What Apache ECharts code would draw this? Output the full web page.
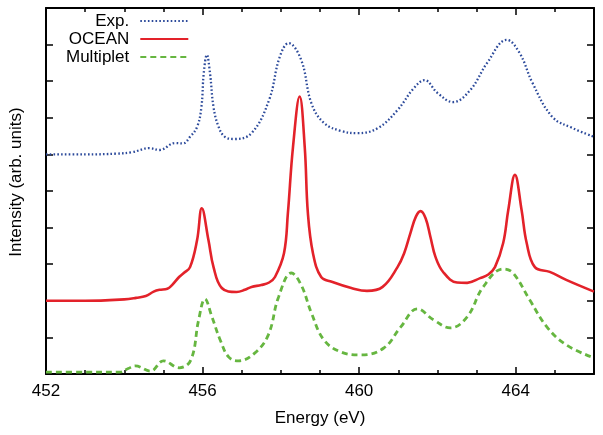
<!DOCTYPE html>
<html>
<head>
<meta charset="utf-8">
<script src="https://cdn.jsdelivr.net/npm/echarts@6/dist/echarts.min.js"></script>
<style>
html,body{margin:0;padding:0;background:#fff;}
#c{width:603px;height:435px;}
</style>
</head>
<body>
<div id="c"></div>
<script>
var seriesNames = ['Exp.', 'OCEAN', 'Multiplet'];
var xTickLabels = [452, 456, 460, 464];

var expE = [452.0, 453.0, 453.8, 454.2, 454.64, 454.9, 455.3, 455.5, 455.68, 455.86, 455.97, 456.03, 456.11, 456.19, 456.28, 456.41, 456.57, 456.8, 457.25, 457.7, 457.97, 458.2, 458.52, 458.78, 459.1, 459.54, 459.97, 460.48, 460.98, 461.39, 461.67, 462.0, 462.4, 462.84, 463.27, 463.77, 464.1, 464.43, 464.94, 465.45, 466.0];
var expI = [6.0, 6.0, 6.02, 6.06, 6.17, 6.12, 6.31, 6.3, 6.48, 6.75, 7.29, 8.22, 8.72, 8.22, 7.29, 6.75, 6.48, 6.42, 6.58, 7.49, 8.66, 9.04, 8.58, 7.4, 6.86, 6.64, 6.58, 6.72, 7.21, 7.8, 8.03, 7.68, 7.43, 7.76, 8.5, 9.13, 8.77, 7.95, 7.02, 6.72, 6.48];

var oceanE = [452.0, 453.0, 454.0, 454.3, 454.55, 454.75, 454.9, 455.1, 455.22, 455.4, 455.52, 455.68, 455.86, 455.98, 456.15, 456.28, 456.49, 456.87, 457.08, 457.25, 457.5, 457.7, 457.85, 458.08, 458.18, 458.31, 458.48, 458.61, 458.69, 458.82, 459.03, 459.3, 459.8, 460.2, 460.6, 460.98, 461.15, 461.31, 461.45, 461.57, 461.7, 461.82, 461.95, 462.15, 462.5, 462.76, 463.09, 463.3, 463.47, 463.68, 463.81, 463.98, 464.15, 464.28, 464.49, 464.87, 465.29, 466.0];
var oceanI = [2.0, 2.0, 2.04, 2.08, 2.13, 2.25, 2.3, 2.33, 2.43, 2.65, 2.76, 2.92, 3.66, 4.53, 3.66, 2.92, 2.35, 2.24, 2.3, 2.38, 2.43, 2.5, 2.65, 3.3, 4.4, 6.2, 7.58, 6.2, 4.4, 3.3, 2.65, 2.52, 2.35, 2.27, 2.38, 2.92, 3.3, 3.85, 4.3, 4.45, 4.25, 3.75, 3.2, 2.78, 2.5, 2.49, 2.62, 2.72, 2.92, 3.58, 4.48, 5.44, 4.48, 3.58, 2.92, 2.79, 2.57, 2.25];

var multE = [452.0, 453.0, 453.88, 454.1, 454.28, 454.67, 455.0, 455.4, 455.7, 455.9, 456.06, 456.24, 456.45, 456.67, 456.92, 457.33, 457.68, 457.94, 458.27, 458.52, 458.78, 459.1, 459.54, 460.05, 460.63, 461.06, 461.49, 461.9, 462.33, 462.76, 463.17, 463.68, 463.93, 464.36, 464.8, 465.3, 466.0];
var multI = [0.05, 0.05, 0.05, 0.15, 0.22, 0.08, 0.36, 0.17, 0.38, 1.48, 2.05, 1.56, 0.93, 0.46, 0.36, 0.57, 1.07, 2.1, 2.76, 2.43, 1.67, 0.93, 0.6, 0.52, 0.71, 1.28, 1.78, 1.48, 1.26, 1.56, 2.38, 2.87, 2.76, 2.02, 1.28, 0.79, 0.44];

function zip(a, b) { return a.map(function (v, i) { return [v, b[i]]; }); }

var FONT = 'Liberation Sans, Arial, Helvetica, sans-serif';
var chart = echarts.init(document.getElementById('c'), null, {renderer: 'canvas'});

function xAx(pos, interval, len, showLine, showLabel) {
  return {
    type: 'value', position: pos, min: 452, max: 466, interval: interval,
    axisLine: {show: showLine, lineStyle: {color: '#000', width: 2}},
    axisTick: {show: true, inside: true, length: len, lineStyle: {color: '#000', width: 1.5}},
    axisLabel: {show: showLabel, showMaxLabel: false, margin: 9, fontSize: 17, fontFamily: FONT, color: '#000',
      formatter: function (v) { return xTickLabels.indexOf(v) >= 0 ? String(v) : ''; }},
    splitLine: {show: false}
  };
}
function yAx(pos) {
  return {
    type: 'value', position: pos, min: 0, max: 10, interval: 1,
    axisLine: {show: true, lineStyle: {color: '#000', width: 2}},
    axisTick: {show: true, inside: true, length: 7, lineStyle: {color: '#000', width: 1.5}},
    axisLabel: {show: false},
    splitLine: {show: false}
  };
}

var xMain = xAx('bottom', 4, 7, true, true);
xMain.name = 'Energy (eV)';
xMain.nameLocation = 'middle';
xMain.nameGap = 36;
xMain.nameTextStyle = {fontSize: 17, fontFamily: FONT, color: '#000'};

var yMain = yAx('left');
yMain.name = 'Intensity (arb. units)';
yMain.nameLocation = 'middle';
yMain.nameGap = 21;
yMain.nameTextStyle = {fontSize: 17, fontFamily: FONT, color: '#000', padding: [0, 0, 0, 18]};

chart.setOption({
  animation: false,
  backgroundColor: '#fff',
  grid: {left: 43, right: 9, top: 8, bottom: 61, containLabel: false},
  legend: {
    orient: 'vertical', align: 'right', left: 66, top: 12, padding: 0,
    itemGap: 0, itemWidth: 48, itemHeight: 14,
    itemStyle: {opacity: 0},
    textStyle: {fontSize: 17, fontFamily: FONT, color: '#000', lineHeight: 18, padding: [0, 6, 0, 0]},
    data: seriesNames
  },
  xAxis: [xMain, xAx('bottom', 1, 4, false, false), xAx('top', 4, 7, true, false), xAx('top', 1, 4, false, false)],
  yAxis: [yMain, yAx('right')],
  series: [
    {name: seriesNames[0], type: 'line', xAxisIndex: 0, yAxisIndex: 0, symbol: 'none', smooth: 0.4,
      lineStyle: {color: '#2c4a9b', width: 2.3, type: [1.6, 2.2]}, itemStyle: {color: '#2c4a9b'}, data: zip(expE, expI)},
    {name: seriesNames[1], type: 'line', xAxisIndex: 0, yAxisIndex: 0, symbol: 'none', smooth: 0.4,
      lineStyle: {color: '#e3222a', width: 2.6}, itemStyle: {color: '#e3222a'}, data: zip(oceanE, oceanI)},
    {name: seriesNames[2], type: 'line', xAxisIndex: 0, yAxisIndex: 0, symbol: 'none', smooth: 0.4,
      lineStyle: {color: '#66b640', width: 2.8, type: [6, 4]}, itemStyle: {color: '#66b640'}, data: zip(multE, multI)}
  ]
});
</script>
</body>
</html>
